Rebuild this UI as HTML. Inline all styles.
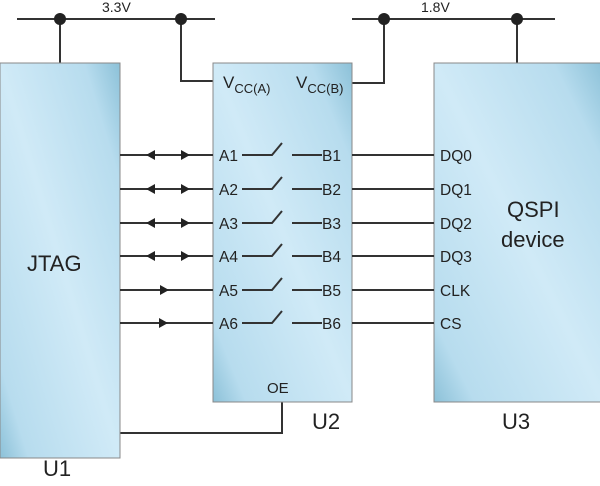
<!DOCTYPE html>
<html><head><meta charset="utf-8"><style>
body{margin:0;background:#fff}
text{font-family:"Liberation Sans",sans-serif;fill:#222}
</style></head><body>
<svg width="600" height="481" viewBox="0 0 600 481" xmlns="http://www.w3.org/2000/svg">
<defs>
<linearGradient id="g" x1="0" y1="1" x2="1" y2="0">
<stop offset="0" stop-color="#8cc1d8"/>
<stop offset="0.12" stop-color="#b7dcee"/>
<stop offset="0.5" stop-color="#d0eaf7"/>
<stop offset="0.85" stop-color="#b7dcee"/>
<stop offset="1" stop-color="#8cc1d8"/>
</linearGradient>
</defs>
<g stroke="#333" stroke-width="2" fill="none">
<path d="M17 19H215M352 19H555"/>
<path d="M60 19V63M181 19V81H213M384 19V83H352M517 19V63"/>
<path d="M282 402V433H120"/>
</g>
<rect x="0" y="63" width="120" height="395" fill="url(#g)" stroke="#888"/>
<rect x="213" y="63" width="139" height="339" fill="url(#g)" stroke="#888"/>
<rect x="434" y="63" width="170" height="339" fill="url(#g)" stroke="#888"/>
<g fill="#222">
<circle cx="60" cy="19" r="6"/><circle cx="181" cy="19" r="6"/>
<circle cx="384" cy="19" r="6"/><circle cx="517" cy="19" r="6"/>
</g>
<text x="102" y="12" font-size="14">3.3V</text>
<text x="421" y="12" font-size="14">1.8V</text>
<text x="223" y="88" font-size="17">V<tspan font-size="13" dy="5">CC(A)</tspan></text>
<text x="296" y="88" font-size="17">V<tspan font-size="13" dy="5">CC(B)</tspan></text>
<text x="27" y="271" font-size="22">JTAG</text>
<text x="507" y="217" font-size="22">QSPI</text>
<text x="501" y="247" font-size="22">device</text>
<text x="267" y="393" font-size="15">OE</text>
<text x="312" y="429" font-size="22">U2</text>
<text x="502" y="429" font-size="22">U3</text>
<text x="43" y="476" font-size="22">U1</text>
<g stroke="#333" stroke-width="2" fill="none">
<path d="M120 155H213M120 189H213M120 223H213M120 256H213M120 290H213M120 323H213"/>
<path d="M352 155H434M352 189H434M352 223H434M352 256H434M352 290H434M352 323H434"/>
<path d="M242 155H272L282 143M292 155H322"/>
<path d="M242 189H272L282 177M292 189H322"/>
<path d="M242 223H272L282 211M292 223H322"/>
<path d="M242 256H272L282 244M292 256H322"/>
<path d="M242 290H272L282 278M292 290H322"/>
<path d="M242 323H272L282 311M292 323H322"/>
</g>
<g fill="#222">
<path d="M146 155l9-5v10zM190 155l-9-5v10z"/>
<path d="M146 189l9-5v10zM190 189l-9-5v10z"/>
<path d="M146 223l9-5v10zM190 223l-9-5v10z"/>
<path d="M146 256l9-5v10zM190 256l-9-5v10z"/>
<path d="M169 290l-9-5v10zM168 323l-9-5v10z"/>
</g>
<g font-size="15.5">
<text x="219" y="161">A1</text><text x="219" y="195">A2</text><text x="219" y="229">A3</text>
<text x="219" y="262">A4</text><text x="219" y="296">A5</text><text x="219" y="329">A6</text>
<text x="322" y="161">B1</text><text x="322" y="195">B2</text><text x="322" y="229">B3</text>
<text x="322" y="262">B4</text><text x="322" y="296">B5</text><text x="322" y="329">B6</text>
<text x="440" y="161">DQ0</text><text x="440" y="195">DQ1</text><text x="440" y="229">DQ2</text>
<text x="440" y="262">DQ3</text><text x="440" y="296">CLK</text><text x="440" y="329">CS</text>
</g>
</svg>
</body></html>
